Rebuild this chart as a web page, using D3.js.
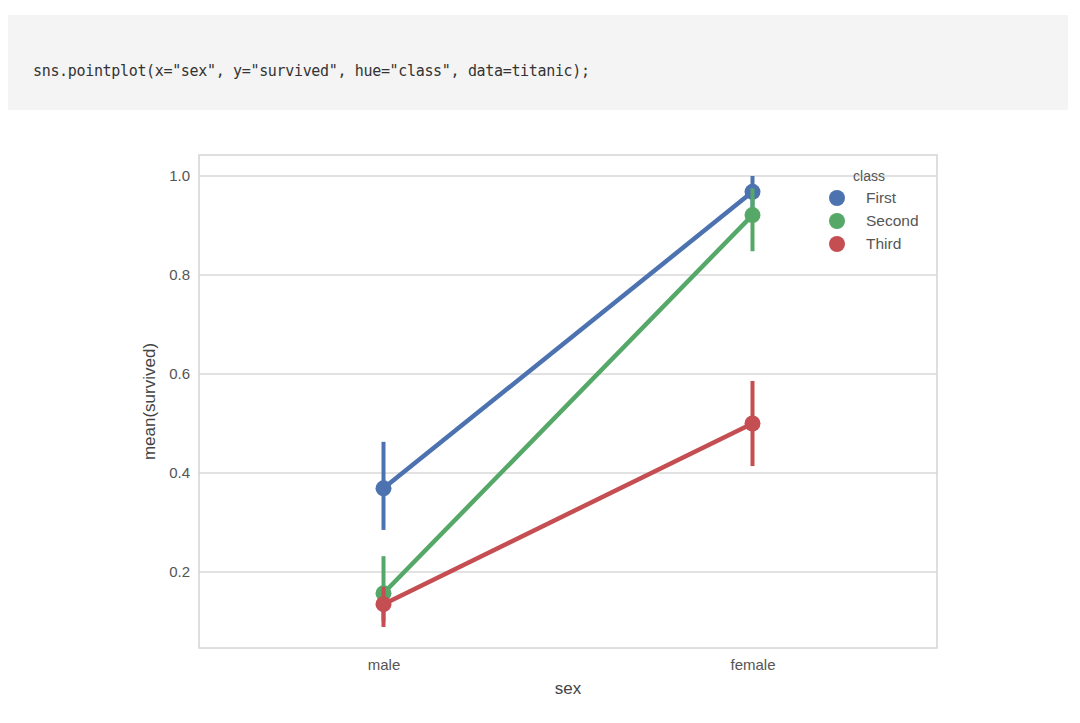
<!DOCTYPE html>
<html>
<head>
<meta charset="utf-8">
<script src="https://cdn.jsdelivr.net/npm/d3@7"></script>
<style>
  body { margin: 0; background: #fff; }
  svg { display: block; font-family: "Liberation Sans", Arial, sans-serif; }
</style>
</head>
<body>
<svg id="chart" width="1080" height="723"></svg>
<script>
// data
var sexes = ["male", "female"];
var classes = ["First", "Second", "Third"];
var classColors = ["#4c72b0", "#55a868", "#c44e52"];
var meanFirst = [0.369, 0.968];
var meanSecond = [0.157, 0.921];
var meanThird = [0.135, 0.500];
var ciFirst = [[0.285, 0.463], [0.935, 1.0]];
var ciSecond = [[0.100, 0.232], [0.848, 0.975]];
var ciThird = [[0.089, 0.170], [0.414, 0.586]];
var yTicks = [0.2, 0.4, 0.6, 0.8, 1.0];

var svg = d3.select("#chart");

// code cell on top
svg.append("rect")
  .attr("x", 8).attr("y", 15)
  .attr("width", 1060).attr("height", 95)
  .attr("fill", "#f4f4f4");
svg.append("text")
  .attr("x", 33).attr("y", 76)
  .attr("font-family", "DejaVu Sans Mono, monospace")
  .attr("font-size", 15)
  .attr("fill", "#333")
  .attr("textLength", 557)
  .attr("lengthAdjust", "spacing")
  .text('sns.pointplot(x="sex", y="survived", hue="class", data=titanic);');

var margin = {left: 199, right: 143, top: 155, bottom: 75};
var width = 1080 - margin.left - margin.right,
    height = 723 - margin.top - margin.bottom;

var g = svg.append("g")
  .attr("transform", "translate(" + margin.left + "," + margin.top + ")");

var x = d3.scalePoint()
  .domain(sexes)
  .range([0, width])
  .padding(0.5);

var y = d3.scaleLinear()
  .domain([0.0465, 1.0424])
  .range([height, 0]);

// grid
g.selectAll(".grid")
  .data(yTicks)
  .enter().append("line")
    .attr("x1", 0).attr("x2", width)
    .attr("y1", function(d) { return y(d); })
    .attr("y2", function(d) { return y(d); })
    .attr("stroke", "#d9d9d9")
    .attr("stroke-width", 1.3);

// frame
g.append("rect")
  .attr("width", width).attr("height", height)
  .attr("fill", "none")
  .attr("stroke", "#d4d4d4")
  .attr("stroke-width", 1.5);

// axes
var yAxis = g.append("g")
  .call(d3.axisLeft(y).tickValues(yTicks).tickFormat(d3.format(".1f")).tickSize(0).tickPadding(9));
var xAxis = g.append("g")
  .attr("transform", "translate(0," + height + ")")
  .call(d3.axisBottom(x).tickSize(0).tickPadding(11));
[yAxis, xAxis].forEach(function(a) {
  a.select(".domain").remove();
  a.selectAll("text").attr("font-size", 15).attr("fill", "#555")
    .attr("font-family", "Liberation Sans, Arial, sans-serif");
});

g.append("text")
  .attr("transform", "translate(-44," + (height / 2) + ") rotate(-90)")
  .attr("text-anchor", "middle")
  .attr("font-size", 17)
  .attr("fill", "#444")
  .text("mean(survived)");
g.append("text")
  .attr("x", width / 2).attr("y", height + 46)
  .attr("text-anchor", "middle")
  .attr("font-size", 17)
  .attr("fill", "#444")
  .text("sex");

// points, lines, error bars
var series = [
  {name: "First", mean: meanFirst, ci: ciFirst},
  {name: "Second", mean: meanSecond, ci: ciSecond},
  {name: "Third", mean: meanThird, ci: ciThird}
];

var line = d3.line()
  .x(function(d, i) { return x(sexes[i]); })
  .y(function(d) { return y(d); });

series.forEach(function(s, k) {
  var col = classColors[k];
  var sg = g.append("g");
  sg.selectAll(".ci")
    .data(s.ci)
    .enter().append("line")
      .attr("x1", function(d, i) { return x(sexes[i]); })
      .attr("x2", function(d, i) { return x(sexes[i]); })
      .attr("y1", function(d) { return y(d[0]); })
      .attr("y2", function(d) { return y(d[1]); })
      .attr("stroke", col)
      .attr("stroke-width", 4);
  sg.append("path")
    .datum(s.mean)
    .attr("d", line)
    .attr("fill", "none")
    .attr("stroke", col)
    .attr("stroke-width", 4.5);
  sg.selectAll(".pt")
    .data(s.mean)
    .enter().append("circle")
      .attr("cx", function(d, i) { return x(sexes[i]); })
      .attr("cy", function(d) { return y(d); })
      .attr("r", 8)
      .attr("fill", col);
});

// legend
var legend = g.append("g")
  .attr("transform", "translate(" + (837 - margin.left) + "," + (198 - margin.top) + ")");
legend.append("text")
  .attr("x", 32).attr("y", -17)
  .attr("text-anchor", "middle")
  .attr("font-size", 14)
  .attr("fill", "#555")
  .text("class");
classes.forEach(function(c, i) {
  legend.append("circle")
    .attr("cx", 0).attr("cy", i * 23)
    .attr("r", 8)
    .attr("fill", classColors[i]);
  legend.append("text")
    .attr("x", 29).attr("y", i * 23 + 5)
    .attr("font-size", 15.5)
    .attr("fill", "#555")
    .text(c);
});
</script>
</body>
</html>
